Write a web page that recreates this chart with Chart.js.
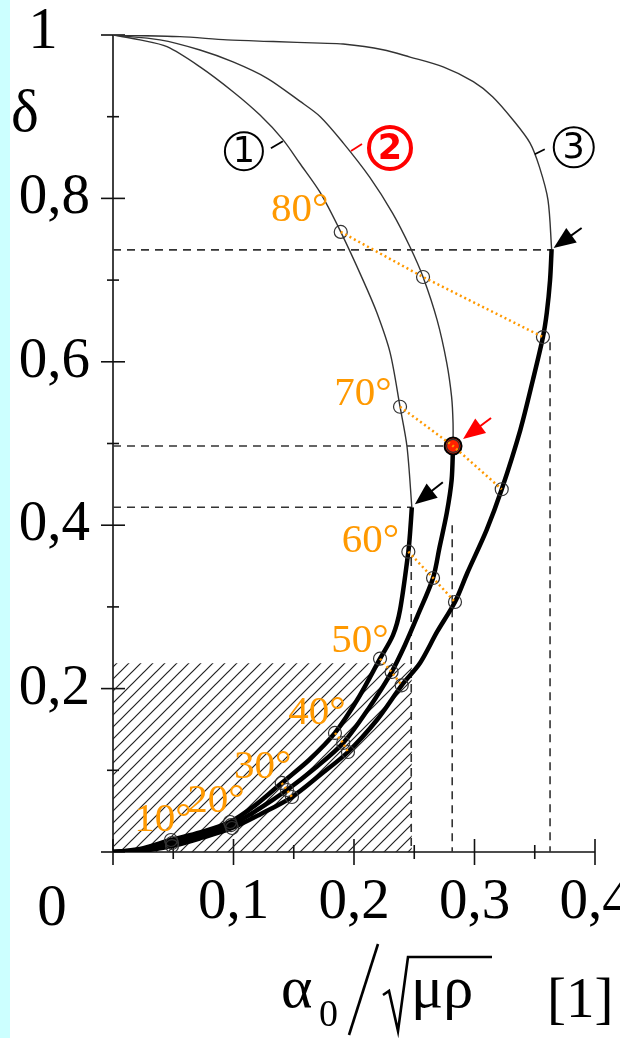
<!DOCTYPE html>
<html>
<head>
<meta charset="utf-8">
<script src="https://cdn.jsdelivr.net/npm/chart.js@4.4.1/dist/chart.umd.min.js"></script>
<style>
  html, body { margin: 0; padding: 0; background: #fff; }
</style>
</head>
<body>
<canvas id="c" width="620" height="1038"></canvas>
<script>
// values: x = alpha0/sqrt(mu rho), y = delta
const xTickValues = [0.1, 0.2, 0.3, 0.4];
const yTickValues = [0.2, 0.4, 0.6, 0.8];

const curve1Thin = [[0,1],[0.0224,0.994],[0.0448,0.9857],[0.0722,0.961],[0.0996,0.9306],[0.122,0.902],[0.141,0.872],[0.155,0.843],[0.172,0.807],[0.189,0.759],[0.2075,0.700],[0.219,0.660],[0.230,0.611],[0.2382,0.545],[0.244,0.496],[0.248,0.422]];
const curve1Thick = [[0.248,0.422],[0.2465,0.39],[0.2451,0.3676],[0.2382,0.2962],[0.2324,0.2656],[0.2216,0.2366],[0.2041,0.1897],[0.1842,0.1457],[0.1627,0.1126],[0.140,0.0845],[0.1187,0.058],[0.0971,0.0367],[0.0722,0.024],[0.0481,0.0147],[0.0224,0.0037],[0,0]];

const curve2Thin = [[0,1],[0.039,0.994],[0.0722,0.9816],[0.0996,0.967],[0.128,0.947],[0.155,0.919],[0.172,0.900],[0.191,0.868],[0.213,0.826],[0.232,0.782],[0.2465,0.7405],[0.2573,0.7038],[0.269,0.651],[0.277,0.5985],[0.281,0.557],[0.2822,0.525],[0.2822,0.497]];
const curve2Thick = [[0.2822,0.497],[0.281,0.455],[0.277,0.415],[0.271,0.373],[0.2656,0.3354],[0.2523,0.2876],[0.2423,0.2534],[0.2312,0.2203],[0.2124,0.1763],[0.191,0.1334],[0.168,0.103],[0.1444,0.0759],[0.1203,0.052],[0.098,0.033],[0.073,0.0205],[0.049,0.011],[0.0224,0.0024],[0,0]];

const curve3Thin = [[0,1],[0.0556,0.998],[0.0946,0.994],[0.133,0.992],[0.172,0.990],[0.191,0.989],[0.224,0.982],[0.2465,0.973],[0.274,0.961],[0.299,0.943],[0.315,0.9245],[0.332,0.896],[0.346,0.868],[0.354,0.838],[0.361,0.798],[0.364,0.738]];
const curve3Thick = [[0.364,0.738],[0.3627,0.700],[0.360,0.660],[0.3568,0.6303],[0.3485,0.578],[0.338,0.5165],[0.3226,0.444],[0.310,0.394],[0.294,0.3415],[0.2838,0.306],[0.2689,0.2693],[0.2548,0.2313],[0.2396,0.204],[0.219,0.1616],[0.195,0.1224],[0.1718,0.0942],[0.1485,0.0673],[0.122,0.046],[0.0988,0.0294],[0.0739,0.0175],[0.049,0.0073],[0.0224,0.0012],[0,0]];

// angle marks on the three curves
const angleLabels = ['80°', '70°', '60°', '50°', '40°', '30°', '20°', '10°'];
const angleC1 = [[0.189,0.759],[0.2382,0.545],[0.2451,0.3676],[0.2216,0.2366],[0.1842,0.1457],[0.140,0.0845],[0.0971,0.0367],[0.0481,0.0147]];
const angleC2 = [[0.2573,0.7038],[0.2822,0.497],[0.2656,0.3354],[0.2312,0.2203],[0.191,0.1334],[0.1444,0.0759],[0.098,0.033],[0.049,0.011]];
const angleC3 = [[0.3568,0.6303],[0.3226,0.444],[0.2838,0.306],[0.2396,0.204],[0.195,0.1224],[0.1485,0.0673],[0.0988,0.0294],[0.049,0.0073]];
const linkedAngles = 6; // 80..30 get a dotted link

const redPoint = [0.2822, 0.497];

// dashed guide lines: [y, x end] and [x, y top]
const guideH = [[0.737, 0.364], [0.497, 0.282], [0.422, 0.248]];
const guideV = [[0.3627, 0.624], [0.2815, 0.40], [0.2475, 0.36]];

// hatched zone
const hatchBox = [0.248, 0.231];

// arrow targets and curve label anchors
const arrowAt = [[0.248, 0.422], [0.364, 0.738], redPoint];
const curveTagAt = [[0.141, 0.870], [0.1975, 0.858], [0.350, 0.854]];
const curveTags = ['1', '2', '3'];

const pt = a => ({ x: a[0], y: a[1] });

// --- styles ---
const ORANGE = '#FF9900';
const SERIF = '"Liberation Serif", "Times New Roman", serif';
const angleLabelOffset = [[-41,-22],[-37,-13],[-38,-10],[-20,-17],[-18,-20],[-19,-16],[-14,-21],[-8,-20]];
const arrowStyle = [
  { tip: [3, -3], tail: [28, -22], color: '#000' },
  { tip: [2, -1], tail: [28, -20], color: '#000' },
  { tip: [10, -7], tail: [28, -21], color: '#ff0000' },
];
const tagStyle = [
  { lead: [-12, 7], center: [-39, 10], r: 19, color: '#000', width: 2, font: '35px "DejaVu Sans"' },
  { lead: [11, -7], center: [39, -3], r: 21, color: '#ff0000', width: 4, font: 'bold 35px "DejaVu Sans"' },
  { lead: [10, -5], center: [39, -7], r: 20, color: '#000', width: 2, font: '35px "DejaVu Sans"' },
];

function hatchPattern(ctx) {
    const pc = document.createElement('canvas');
    pc.width = 12; pc.height = 12;
    const g = pc.getContext('2d');
    g.strokeStyle = '#222';
    g.lineWidth = 1.2;
    g.beginPath();
    g.moveTo(0, 12); g.lineTo(12, 0);
    g.moveTo(-6, 6); g.lineTo(6, -6);
    g.moveTo(6, 18); g.lineTo(18, 6);
    g.stroke();
    return ctx.createPattern(pc, 'repeat');
}

function line(ctx, x1, y1, x2, y2) {
    ctx.beginPath(); ctx.moveTo(x1, y1); ctx.lineTo(x2, y2); ctx.stroke();
}

const decor = {
    id: 'decor',
    beforeDraw(chart) {
        const { ctx } = chart;
        ctx.save();
        ctx.fillStyle = '#fff';
        ctx.fillRect(0, 0, chart.width, chart.height);
        ctx.fillStyle = '#ccffff';
        ctx.fillRect(0, 0, 10, chart.height);
        ctx.restore();
    },
    beforeDatasetsDraw(chart) {
        const { ctx } = chart;
        const xs = chart.scales.x, ys = chart.scales.y;
        const x0 = xs.getPixelForValue(0), y0 = ys.getPixelForValue(0);
        ctx.save();
        ctx.strokeStyle = '#111';
        ctx.lineWidth = 1.6;
        line(ctx, x0, ys.getPixelForValue(1), x0, y0);
        line(ctx, x0, y0, xs.getPixelForValue(0.4), y0);
        for (let i = 0; i <= 10; i++) {
            const py = ys.getPixelForValue(i / 10);
            const L = i % 2 === 0 ? 12 : 6;
            line(ctx, x0 - L, py, x0 + L, py);
        }
        for (let i = 0; i <= 8; i++) {
            const px = xs.getPixelForValue(i * 0.05);
            const L = i % 2 === 0 ? 13 : 7;
            line(ctx, px, y0 - L, px, y0 + L);
        }
        ctx.restore();
    },
    afterDatasetsDraw(chart) {
        const { ctx } = chart;
        const xs = chart.scales.x, ys = chart.scales.y;
        const P = a => [xs.getPixelForValue(a[0]), ys.getPixelForValue(a[1])];
        ctx.save();

        // angle labels
        ctx.font = '41px ' + SERIF;
        ctx.fillStyle = ORANGE;
        ctx.textAlign = 'center';
        ctx.textBaseline = 'middle';
        angleLabels.forEach((t, i) => {
            const [px, py] = P(angleC1[i]);
            ctx.fillText(t, px + angleLabelOffset[i][0], py + angleLabelOffset[i][1]);
        });

        // arrows
        arrowAt.forEach((a, i) => {
            const s = arrowStyle[i];
            const [px, py] = P(a);
            const tx = px + s.tip[0], ty = py + s.tip[1];
            const ex = tx + s.tail[0], ey = ty + s.tail[1];
            const ang = Math.atan2(ty - ey, tx - ex);
            ctx.strokeStyle = s.color; ctx.fillStyle = s.color; ctx.lineWidth = 2;
            line(ctx, ex, ey, tx - 12 * Math.cos(ang), ty - 12 * Math.sin(ang));
            ctx.beginPath();
            ctx.moveTo(tx, ty);
            ctx.lineTo(tx - 22 * Math.cos(ang) + 9 * Math.sin(ang), ty - 22 * Math.sin(ang) - 9 * Math.cos(ang));
            ctx.lineTo(tx - 22 * Math.cos(ang) - 9 * Math.sin(ang), ty - 22 * Math.sin(ang) + 9 * Math.cos(ang));
            ctx.closePath();
            ctx.fill();
        });

        // circled curve numbers
        curveTagAt.forEach((a, i) => {
            const s = tagStyle[i];
            const [px, py] = P(a);
            ctx.strokeStyle = s.color; ctx.fillStyle = s.color;
            ctx.lineWidth = 1.8;
            line(ctx, px, py, px + s.lead[0], py + s.lead[1]);
            ctx.lineWidth = s.width;
            ctx.beginPath();
            ctx.arc(px + s.center[0], py + s.center[1], s.r, 0, Math.PI * 2);
            ctx.stroke();
            ctx.font = s.font;
            ctx.textAlign = 'center';
            ctx.textBaseline = 'middle';
            ctx.fillText(curveTags[i], px + s.center[0], py + s.center[1] + 2);
        });

        // corner labels
        const x0 = xs.getPixelForValue(0), y0 = ys.getPixelForValue(0), y1 = ys.getPixelForValue(1);
        ctx.fillStyle = '#000';
        ctx.font = '59px ' + SERIF;
        ctx.textAlign = 'center';
        ctx.textBaseline = 'alphabetic';
        ctx.fillText('1', x0 - 70, y1 + 13);
        ctx.fillText('δ', x0 - 88, y1 + 96);
        ctx.fillText('0', x0 - 61, y0 + 73);

        // x axis title: alpha_0 / sqrt(mu rho)  [1]
        const by = y0 + 155;
        ctx.textAlign = 'left';
        ctx.font = '60px ' + SERIF;
        ctx.fillText('α', 281, by);
        ctx.font = '38px ' + SERIF;
        ctx.fillText('0', 319, by + 19);
        ctx.strokeStyle = '#000';
        ctx.lineWidth = 2.6;
        line(ctx, 349, by + 28, 378, by - 63);
        ctx.beginPath();
        ctx.moveTo(383, by - 12);
        ctx.lineTo(389, by - 16);
        ctx.lineTo(398, by + 24);
        ctx.lineTo(408, by - 50);
        ctx.lineTo(492, by - 50);
        ctx.stroke();
        ctx.font = '60px ' + SERIF;
        ctx.fillText('μρ', 411, by);
        ctx.font = '57px ' + SERIF;
        ctx.fillText('[1]', 547, by + 10);
        ctx.restore();
    }
};

const ctx = document.getElementById('c').getContext('2d');
const hatch = hatchPattern(ctx);

const curveSet = (data, w, color, order) => ({
    data: data.map(pt), borderColor: color, borderWidth: w, pointRadius: 0,
    tension: 0.3, fill: false, order,
});

const datasets = [
    // hatched area
    { data: [pt([0, hatchBox[1]]), pt(hatchBox)], borderWidth: 0, pointRadius: 0,
      fill: 'origin', backgroundColor: hatch, order: 9 },
    ...guideH.map(g => ({ data: [pt([0, g[0]]), pt([g[1], g[0]])], borderColor: '#333', borderWidth: 1.6,
      borderDash: [8, 6], pointRadius: 0, fill: false, order: 8 })),
    ...guideV.map(g => ({ data: [pt([g[0], g[1]]), pt([g[0], 0])], borderColor: '#333', borderWidth: 1.6,
      borderDash: [8, 6], pointRadius: 0, fill: false, order: 8 })),
    curveSet(curve1Thin, 1.4, '#333', 7),
    curveSet(curve2Thin, 1.4, '#333', 7),
    curveSet(curve3Thin, 1.4, '#333', 7),
    curveSet(curve1Thick, 4.5, '#000', 6),
    curveSet(curve2Thick, 4.5, '#000', 6),
    curveSet(curve3Thick, 4.5, '#000', 6),
    // red working point
    { data: [pt(redPoint)], showLine: false, pointRadius: 8.5, pointBorderWidth: 2,
      pointBackgroundColor: '#ff2200', pointBorderColor: '#000', order: 5 },
    // open circles on every curve at each angle
    { data: [...angleC1, ...angleC2, ...angleC3].map(pt), showLine: false, pointRadius: 6.5,
      pointBorderWidth: 1.2, pointBorderColor: '#333', pointBackgroundColor: 'rgba(0,0,0,0)', order: 4 },
    // dotted orange links between the three curves
    ...angleC1.slice(0, linkedAngles).map((a, i) => ({
      data: [pt(a), pt(angleC2[i]), pt(angleC3[i])], borderColor: ORANGE, borderWidth: 2.5,
      borderDash: [2, 3], pointRadius: 0, fill: false, tension: 0, order: 1 })),
];

new Chart(ctx, {
    type: 'line',
    data: { datasets },
    options: {
        responsive: false,
        animation: false,
        events: [],
        layout: { padding: { top: 35, right: 25, left: 0, bottom: 0 } },
        plugins: { legend: { display: false }, tooltip: { enabled: false } },
        scales: {
            x: {
                type: 'linear', min: 0, max: 0.4,
                grid: { display: false, drawTicks: false }, border: { display: false },
                ticks: {
                    stepSize: 0.1, autoSkip: false, maxRotation: 0, minRotation: 0, padding: 17,
                    color: '#000', font: { family: SERIF, size: 57 },
                    callback: v => xTickValues.some(t => Math.abs(t - v) < 1e-6) ? v.toFixed(1).replace('.', ',') : '',
                },
                afterFit: s => { s.height = 186; s.paddingLeft = 0; s.paddingRight = 0; },
            },
            y: {
                type: 'linear', min: 0, max: 1,
                grid: { display: false, drawTicks: false }, border: { display: false },
                ticks: {
                    stepSize: 0.1, autoSkip: false, padding: 23,
                    color: '#000', font: { family: SERIF, size: 57 },
                    callback: v => yTickValues.some(t => Math.abs(t - v) < 1e-6) ? v.toFixed(1).replace('.', ',') : '',
                },
                afterFit: s => { s.width = 113; s.paddingTop = 0; s.paddingBottom = 0; },
            },
        },
    },
    plugins: [decor],
});
</script>
</body>
</html>
